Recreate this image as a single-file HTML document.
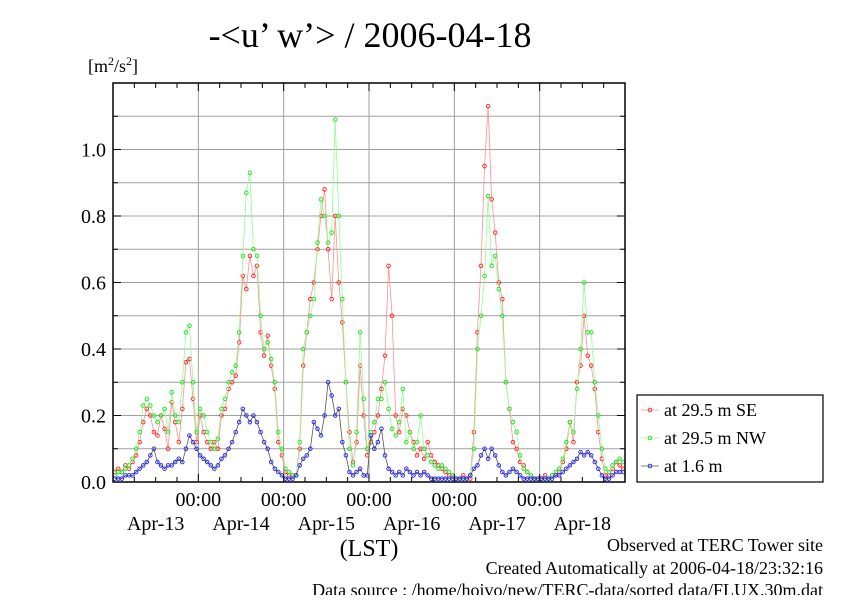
<!DOCTYPE html>
<html><head><meta charset="utf-8">
<style>
html,body{margin:0;padding:0;background:#fff;}
svg text{font-family:"Liberation Serif",serif;fill:#000;}
</style></head>
<body>
<svg id="chart" width="842" height="595" viewBox="0 0 842 595" xmlns="http://www.w3.org/2000/svg">
<text x="370" y="47" font-size="36" text-anchor="middle">-&lt;u’ w’&gt; / 2006-04-18</text>
<text x="88" y="72" font-size="18">[m<tspan font-size="12" dy="-7">2</tspan><tspan dy="7">/s</tspan><tspan font-size="12" dy="-7">2</tspan><tspan dy="7">]</tspan></text>
<g id="grid"></g>
<g id="series"></g>
<rect x="113" y="83" width="512" height="399" fill="none" stroke="#000" stroke-width="1.5"/>
<g id="axes"></g>
<text x="369" y="556" font-size="24" text-anchor="middle">(LST)</text>
<g>
<rect x="637" y="395" width="186" height="87" fill="#fff" stroke="#000" stroke-width="1.2"/>
<g id="legend-items"></g>
</g>
<text x="823" y="551" font-size="18" text-anchor="end">Observed at TERC Tower site</text>
<text x="823" y="574" font-size="18" text-anchor="end">Created Automatically at 2006-04-18/23:32:16</text>
<text x="823" y="596" font-size="18" text-anchor="end">Data source : /home/hoivo/new/TERC-data/sorted  data/FLUX.30m.dat</text>
</svg>
<script>
const dayLabels = ["Apr-13","Apr-14","Apr-15","Apr-16","Apr-17","Apr-18"];
const yTicks = [0.0,0.2,0.4,0.6,0.8,1.0];
const seriesNames = ["at 29.5 m SE","at 29.5 m NW","at 1.6 m"];
const seSE = [
.03,.04,.03,.05,.04,.06,.08,.12,.18,.22,.2,.15,.14,.2,.16,.1,.24,.18,.12,.22,.36,.37,.25,.12,
.2,.15,.12,.1,.12,.1,.2,.22,.28,.3,.32,.42,.62,.58,.68,.62,.65,.45,.38,.44,.35,.28,.12,.08,
.03,.02,.02,.02,.1,.35,.45,.55,.6,.7,.8,.88,.7,.55,.8,.6,.48,.3,.15,.06,.12,.35,.2,.08,
.12,.15,.2,.28,.38,.65,.5,.2,.15,.22,.2,.15,.12,.08,.1,.07,.12,.08,.06,.05,.04,.03,.02,.02,
.01,.01,.02,.01,.01,.15,.45,.65,.95,1.13,.85,.75,.6,.55,.3,.22,.12,.1,.06,.05,.03,.02,.01,.01,
.01,.02,.01,.02,.02,.03,.06,.1,.18,.12,.3,.35,.5,.38,.35,.28,.15,.07,.02,.02,.04,.06,.05,.04];
const seNW = [
.02,.03,.03,.04,.05,.07,.1,.15,.23,.25,.23,.2,.18,.2,.22,.15,.27,.2,.18,.3,.45,.47,.3,.15,
.22,.2,.15,.12,.1,.13,.22,.25,.3,.33,.35,.45,.68,.87,.93,.7,.68,.5,.4,.42,.37,.3,.15,.1,
.04,.03,.02,.02,.12,.4,.45,.5,.55,.72,.85,.8,.72,.75,1.09,.8,.55,.3,.1,.05,.15,.45,.25,.1,
.15,.18,.25,.25,.3,.22,.16,.14,.18,.28,.12,.15,.1,.12,.2,.1,.08,.06,.05,.04,.05,.04,.03,.02,
.01,.01,.01,.01,.02,.1,.4,.5,.62,.86,.65,.68,.58,.5,.3,.22,.18,.15,.08,.04,.03,.02,.01,.01,
.01,.01,.01,.02,.03,.04,.07,.12,.18,.15,.28,.4,.6,.45,.45,.3,.2,.1,.04,.03,.05,.06,.07,.06];
const seLow = [
.01,.01,.01,.02,.02,.02,.03,.04,.05,.06,.08,.1,.06,.05,.04,.05,.05,.06,.07,.06,.1,.14,.12,.1,
.08,.07,.06,.05,.04,.05,.07,.08,.1,.12,.15,.18,.22,.2,.18,.2,.18,.15,.12,.1,.06,.04,.03,.02,
.01,.01,.01,.02,.05,.07,.08,.1,.18,.16,.14,.2,.3,.26,.2,.22,.12,.08,.03,.02,.03,.04,.02,.02,
.14,.1,.12,.16,.08,.04,.03,.02,.03,.02,.04,.03,.02,.03,.02,.03,.02,.01,.01,.01,.01,.01,.01,.01,
.01,.01,.01,.01,.02,.04,.05,.08,.1,.07,.1,.08,.05,.03,.02,.03,.04,.03,.02,.01,.01,.01,.01,.01,
.01,.01,.01,.01,.02,.02,.03,.04,.05,.06,.07,.09,.08,.09,.08,.06,.04,.02,.01,.01,.02,.03,.03,.03];

const NS="http://www.w3.org/2000/svg";
const X0=113,X1=625,Y0=482,Y1=83,HOURS=144,YMAX=1.2;
const xs=h=>X0+h*(X1-X0)/HOURS;
const ys=v=>Y0-v*(Y0-Y1)/YMAX;
function mk(tag,attrs,parent){const e=document.createElementNS(NS,tag);for(const k in attrs)e.setAttribute(k,attrs[k]);parent.appendChild(e);return e;}
const grid=document.getElementById('grid'),axes=document.getElementById('axes'),ser=document.getElementById('series');
for(let i=1;i<12;i++){const y=ys(i*0.1);
 const l=mk('line',{x1:X0,x2:X1,y1:y,y2:y,stroke:'#a0a0a0','stroke-width':1},grid);
 
 mk('line',{x1:X0,x2:X0+(i%2==0?8:5),y1:y,y2:y,stroke:'#000'},axes);
 mk('line',{x1:X1,x2:X1-(i%2==0?8:5),y1:y,y2:y,stroke:'#000'},axes);
}
for(let h=6;h<HOURS;h+=6){const x=xs(h);const major=h%24==0;
 if(major){const l=mk('line',{x1:x,x2:x,y1:Y1,y2:Y0,stroke:'#a0a0a0','stroke-width':1},grid);
  }
 mk('line',{x1:x,x2:x,y1:Y0,y2:Y0-(major?8:5),stroke:'#000'},axes);
 mk('line',{x1:x,x2:x,y1:Y1,y2:Y1+(major?8:5),stroke:'#000'},axes);
}
yTicks.forEach(v=>{const t=mk('text',{x:106,y:ys(v)+7,'font-size':20,'text-anchor':'end'},axes);t.textContent=v.toFixed(1);
 });
dayLabels.forEach((d,i)=>{
 const t=mk('text',{x:xs(i*24+12),y:530,'font-size':20,'text-anchor':'middle'},axes);t.textContent=d;
 
 if(i>0){const u=mk('text',{x:xs(i*24),y:506,'font-size':20,'text-anchor':'middle'},axes);u.textContent="00:00";
 }
});
const styles=[{d:seSE,line:'#ff9090',mark:'#ff2020'},{d:seNW,line:'#90ff90',mark:'#20e020'},{d:seLow,line:'#555',mark:'#2020ff'}];
styles.forEach((s,si)=>{
 const g=mk('g',{},ser);
 const pts=s.d.map((v,i)=>xs(i+0.5).toFixed(1)+','+ys(v).toFixed(1)).join(' ');
 const pl=mk('polyline',{points:pts,fill:'none',stroke:s.line,'stroke-width':0.8},g);
 
 s.d.forEach((v,i)=>{const c=mk('circle',{cx:xs(i+0.5),cy:ys(v),r:1.8,fill:'none',stroke:s.mark,'stroke-width':0.9},g);
  });
});
const li=document.getElementById('legend-items');
seriesNames.forEach((n,i)=>{const y=410+i*28;const s=styles[i];
 const g=mk('g',{},li);
 mk('line',{x1:641,x2:659,y1:y,y2:y,stroke:s.line,'stroke-width':0.8},g);
 mk('circle',{cx:650,cy:y,r:1.8,fill:'none',stroke:s.mark,'stroke-width':0.9},g);
 const t=mk('text',{x:664,y:y+6,'font-size':18},g);t.textContent=n;
});
</script>
</body></html>
